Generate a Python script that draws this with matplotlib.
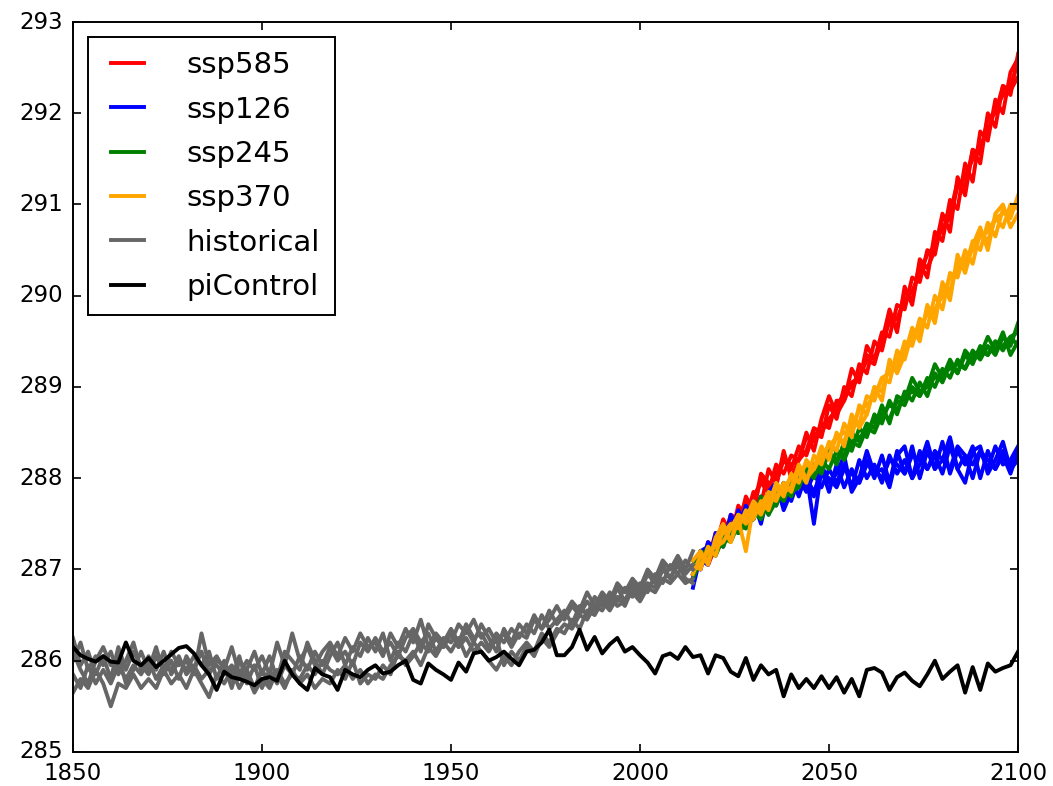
import numpy as np
import matplotlib
import matplotlib.pyplot as plt

matplotlib.use('Agg')
plt.style.use('classic')

# годы
hist_years = np.arange(1850, 2015, 2)
ssp_years = np.arange(2014, 2101, 2)
pi_years = np.arange(1850, 2101, 2)

# historical, 5 членов ансамбля (по десятилетиям, шаг 2 года)
hist_1 = [286.25, 285.95, 286.1, 285.85, 286.05,
          285.8, 286.15, 285.9, 286.1, 285.95,
          285.85, 286.05, 285.9, 286.1, 285.95,
          286.0, 285.85, 286.3, 285.95, 286.05,
          285.9, 286.15, 285.85, 286.0, 285.9,
          286.05, 285.85, 286.2, 285.95, 286.3,
          286.0, 286.15, 285.95, 286.1, 286.2,
          286.05, 286.25, 286.1, 286.3, 286.15,
          286.2, 286.05, 286.3, 286.15, 286.35,
          286.2, 286.45, 286.15, 286.3, 286.2,
          286.35, 286.2, 286.4, 286.25, 286.3,
          286.15, 286.3, 286.2, 286.35, 286.25,
          286.4, 286.3, 286.5, 286.35, 286.45,
          286.55, 286.4, 286.6, 286.5, 286.7,
          286.6, 286.75, 286.65, 286.8, 286.7,
          286.85, 286.75, 286.95, 286.85, 287.05,
          286.95, 287.1, 287.0]
hist_2 = [285.65, 285.8, 285.7, 285.9, 285.75,
          285.5, 285.75, 285.7, 285.85, 285.7,
          285.8, 285.7, 285.9, 285.75, 285.85,
          285.7, 285.9, 285.75, 285.6, 285.85,
          285.75, 285.9, 285.7, 285.85, 285.65,
          285.8, 285.7, 285.9, 285.75, 285.85,
          285.8, 285.95, 285.85, 286.0, 285.9,
          285.85, 285.95, 285.8, 285.9, 285.75,
          285.85, 285.8, 285.95, 286.05, 286.0,
          286.1, 285.95, 286.15, 286.05, 286.2,
          286.1, 286.25, 286.05, 286.2, 286.1,
          286.0, 285.9, 286.05, 285.95, 286.1,
          286.2, 286.1, 286.3, 286.2, 286.35,
          286.3, 286.45, 286.35, 286.55, 286.5,
          286.65, 286.55, 286.7, 286.6, 286.8,
          286.7, 286.85, 286.8, 287.0, 286.9,
          287.05, 286.9, 286.85]
hist_3 = [286.0, 286.2, 285.9, 286.05, 285.95,
          286.1, 285.85, 286.0, 286.2, 285.9,
          286.05, 285.9, 286.1, 285.85, 286.0,
          285.9, 286.05, 285.95, 286.1, 285.8,
          286.0, 285.8, 286.05, 285.75, 285.95,
          285.7, 285.9, 285.75, 285.95, 285.85,
          286.05, 285.9, 286.1, 285.95, 286.15,
          286.0, 286.1, 285.95, 286.2, 286.1,
          286.25, 286.1, 286.2, 286.05, 286.25,
          286.35, 286.2, 286.3, 286.1, 286.25,
          286.2, 286.4, 286.3, 286.45, 286.25,
          286.35, 286.2, 286.3, 286.15, 286.3,
          286.25, 286.45, 286.35, 286.55, 286.4,
          286.5, 286.65, 286.55, 286.75, 286.6,
          286.75, 286.65, 286.85, 286.75, 286.9,
          286.8, 287.0, 286.9, 287.1, 287.0,
          287.15, 287.0, 287.2]
hist_4 = [285.85, 285.7, 285.95, 285.75, 285.9,
          285.75, 285.95, 285.8, 285.95, 285.85,
          286.0, 285.8, 285.95, 285.9, 286.05,
          285.85, 285.95, 285.8, 285.9, 285.95,
          285.85, 285.95, 285.8, 285.9, 285.7,
          285.9, 285.75, 285.85, 285.7, 285.9,
          285.75, 285.85, 285.7, 285.8, 285.75,
          285.9, 285.8, 286.0, 285.75, 285.85,
          285.8, 285.95, 285.85, 286.1, 285.95,
          286.05, 286.2, 286.1, 286.25, 286.15,
          286.3, 286.15, 286.25, 286.1, 286.2,
          286.1, 286.25, 285.95, 286.1, 286.0,
          286.15, 286.05, 286.25, 286.15, 286.3,
          286.4, 286.35, 286.5, 286.45, 286.6,
          286.55, 286.7, 286.6, 286.65, 286.75,
          286.65, 286.8, 286.75, 286.9, 286.85,
          286.95, 286.85, 286.9]
hist_5 = [286.1, 285.9, 285.75, 286.0, 286.15,
          285.95, 286.05, 285.75, 285.9, 286.1,
          285.9, 286.15, 285.85, 286.0, 285.8,
          286.05, 285.9, 286.1, 285.85, 286.0,
          285.95, 285.7, 286.0, 285.9, 286.1,
          285.85, 286.05, 285.8, 286.1, 286.0,
          285.9, 286.2, 286.0, 285.85, 286.05,
          286.2, 285.95, 286.15, 286.05, 286.25,
          286.1, 286.3, 286.0, 286.2, 286.1,
          286.3, 286.1, 286.4, 286.25, 286.15,
          286.3, 286.15, 286.35, 286.2, 286.4,
          286.25, 286.1, 286.35, 286.2, 286.4,
          286.3, 286.5, 286.35, 286.45, 286.6,
          286.45, 286.6, 286.5, 286.65, 286.55,
          286.7, 286.6, 286.8, 286.65, 286.85,
          286.75, 286.95, 286.85, 287.05, 286.9,
          287.1, 286.95, 287.05]

# piControl
picontrol = [286.15, 286.06, 286.02, 285.99, 286.05,
             285.99, 285.98, 286.2, 286.0, 285.95,
             286.03, 285.93, 286.0, 286.07, 286.14,
             286.16, 286.08, 285.95, 285.85, 285.68,
             285.88, 285.82, 285.8, 285.77, 285.73,
             285.8, 285.82, 285.78, 286.0, 285.85,
             285.75, 285.68, 285.92, 285.85, 285.82,
             285.68, 285.9, 285.85, 285.82, 285.9,
             285.95, 285.86, 285.88, 285.95, 286.0,
             285.79, 285.75, 285.97, 285.9, 285.85,
             285.79, 285.98, 285.88, 286.08, 286.1,
             286.0, 286.04, 286.1, 286.02, 285.95,
             286.1, 286.12, 286.2, 286.34, 286.06,
             286.06, 286.15, 286.34, 286.12, 286.26,
             286.08, 286.18, 286.25, 286.1, 286.15,
             286.06, 285.98, 285.86, 286.05, 286.08,
             286.02, 286.15, 286.04, 286.06, 285.86,
             286.06, 286.03, 285.88, 285.83, 286.03,
             285.79, 285.95, 285.85, 285.9, 285.61,
             285.85, 285.7, 285.8, 285.7, 285.83,
             285.7, 285.82, 285.65, 285.8, 285.61,
             285.9, 285.92, 285.87, 285.68, 285.82,
             285.87, 285.78, 285.72, 285.85, 286.0,
             285.8, 285.88, 285.95, 285.65, 285.93,
             285.68, 285.97, 285.88, 285.92, 285.95,
             286.1]

# сценарии, по 4 члена ансамбля
ssp585 = [
    [287.05, 287.0, 287.3, 287.2, 287.5, 287.35, 287.7, 287.55, 287.85, 287.7, 288.1,
     287.95, 288.2, 288.1, 288.35, 288.25, 288.5, 288.45, 288.8, 288.65, 289.0, 288.9,
     289.25, 289.15, 289.5, 289.4, 289.75, 289.65, 290.05, 289.95, 290.35, 290.2, 290.7,
     290.6, 291.05, 290.95, 291.45, 291.25, 291.8, 291.7, 292.15, 292.0, 292.45, 292.6],
    [286.9, 287.2, 287.1, 287.4, 287.3, 287.6, 287.55, 287.75, 287.65, 288.0, 287.9,
     288.05, 288.2, 288.15, 288.2, 288.45, 288.4, 288.6, 288.55, 288.85, 288.85, 289.05,
     289.1, 289.35, 289.3, 289.6, 289.55, 289.9, 289.85, 290.2, 290.15, 290.5, 290.45,
     290.85, 290.9, 291.25, 291.2, 291.6, 291.55, 291.95, 292.0, 292.3, 292.25, 292.4],
    [287.1, 287.05, 287.15, 287.35, 287.25, 287.55, 287.5, 287.6, 287.8, 287.95, 287.85,
     288.15, 288.05, 288.25, 288.2, 288.3, 288.55, 288.5, 288.65, 288.75, 288.95, 289.0,
     289.1, 289.3, 289.25, 289.55, 289.7, 289.75, 289.95, 290.05, 290.25, 290.45, 290.55,
     290.75, 290.85, 291.2, 291.3, 291.5, 291.65, 291.8, 292.05, 292.2, 292.3, 292.55],
    [286.95, 287.15, 287.05, 287.25, 287.55, 287.4, 287.45, 287.8, 287.65, 288.05, 287.95,
     287.9, 288.3, 288.0, 288.2, 288.5, 288.3, 288.65, 288.9, 288.7, 288.85, 289.2,
     289.05, 289.45, 289.3, 289.5, 289.85, 289.6, 290.1, 289.9, 290.4, 290.3, 290.5,
     290.9, 290.7, 291.3, 291.1, 291.6, 291.45, 292.0, 291.85, 292.3, 292.2, 292.65],
]
ssp126 = [
    [286.8, 287.15, 287.1, 287.35, 287.25, 287.6, 287.45, 287.7, 287.55, 287.8, 287.6,
     287.9, 287.7, 288.0, 287.8, 288.05, 287.5, 288.1, 287.85, 288.15, 287.9, 288.1,
     287.95, 288.2, 288.0, 288.25, 287.95, 288.3, 288.05, 288.35, 288.0, 288.3, 288.1,
     288.4, 288.05, 288.3, 288.15, 288.35, 288.0, 288.3, 288.1, 288.25, 288.05, 288.3],
    [287.05, 287.0, 287.3, 287.2, 287.45, 287.35, 287.65, 287.5, 287.75, 287.6, 287.85,
     287.7, 287.95, 287.75, 288.0, 287.85, 288.05, 287.9, 288.1, 287.95, 288.15, 287.9,
     288.2, 288.0, 288.15, 287.95, 288.25, 288.05, 288.2, 288.0, 288.3, 288.1, 288.25,
     288.05, 288.35, 288.1, 288.25, 288.0, 288.3, 288.1, 288.35, 288.15, 288.2, 288.35],
    [286.9, 287.2, 287.25, 287.2, 287.4, 287.5, 287.4, 287.55, 287.7, 287.65, 287.75,
     287.85, 287.8, 287.95, 287.9, 288.0, 287.85, 288.05, 288.0, 287.9, 288.1, 288.05,
     287.95, 288.15, 288.1, 288.0, 288.2, 288.15, 288.05, 288.25, 288.2, 288.1, 288.3,
     288.2, 288.1, 288.35, 288.25, 288.15, 288.3, 288.2, 288.1, 288.3, 288.15, 288.25],
    [287.0, 287.1, 287.05, 287.4, 287.3, 287.35, 287.6, 287.45, 287.75, 287.5, 287.85,
     287.95, 287.65, 287.85, 288.1, 287.9, 287.8, 288.15, 287.95, 288.05, 288.25, 287.85,
     288.0, 288.3, 288.05, 288.1, 287.9, 288.25, 288.35, 288.0, 288.15, 288.4, 288.1,
     288.2, 288.45, 288.1, 287.95, 288.3, 288.35, 288.05, 288.2, 288.4, 288.1, 288.2],
]
ssp245 = [
    [286.95, 287.05, 287.2, 287.15, 287.35, 287.3, 287.5, 287.45, 287.65, 287.55, 287.75,
     287.7, 287.9, 287.8, 288.05, 287.95, 288.15, 288.05, 288.3, 288.15, 288.4, 288.3,
     288.55, 288.45, 288.7, 288.6, 288.85, 288.7, 288.95, 288.85, 289.05, 288.9, 289.15,
     289.05, 289.25, 289.15, 289.35, 289.25, 289.45, 289.35, 289.5, 289.4, 289.55, 289.45],
    [287.05, 287.15, 287.1, 287.3, 287.25, 287.45, 287.4, 287.6, 287.55, 287.7, 287.65,
     287.85, 287.75, 287.95, 287.9, 288.1, 288.0, 288.2, 288.1, 288.3, 288.2, 288.4,
     288.35, 288.55, 288.5, 288.7, 288.65, 288.85, 288.8, 289.0, 288.9, 289.1, 289.0,
     289.2, 289.1, 289.3, 289.2, 289.4, 289.3, 289.45, 289.35, 289.55, 289.45, 289.7],
    [286.9, 287.1, 287.25, 287.2, 287.3, 287.45, 287.4, 287.5, 287.65, 287.6, 287.7,
     287.8, 287.85, 287.95, 288.0, 288.05, 288.1, 288.2, 288.25, 288.2, 288.35, 288.4,
     288.45, 288.5, 288.65, 288.7, 288.8, 288.75, 288.9, 288.95, 288.9, 289.05, 289.1,
     289.15, 289.2, 289.25, 289.2, 289.35, 289.4, 289.35, 289.5, 289.45, 289.55, 289.6],
    [287.0, 287.2, 287.15, 287.2, 287.4, 287.35, 287.6, 287.5, 287.55, 287.8, 287.6,
     287.75, 287.95, 287.85, 287.9, 288.15, 288.05, 288.1, 288.35, 288.3, 288.25, 288.5,
     288.4, 288.6, 288.55, 288.8, 288.6, 288.9, 288.85, 289.1, 288.95, 289.0, 289.25,
     289.1, 289.3, 289.15, 289.4, 289.3, 289.35, 289.55, 289.4, 289.6, 289.35, 289.5],
]
ssp370 = [
    [287.05, 287.0, 287.25, 287.15, 287.45, 287.3, 287.55, 287.2, 287.7, 287.6, 287.8,
     287.75, 287.95, 287.85, 288.1, 287.95, 288.25, 288.15, 288.4, 288.3, 288.6, 288.45,
     288.8, 288.7, 289.0, 288.95, 289.25, 289.2, 289.5, 289.45, 289.75, 289.65, 290.0,
     289.85, 290.25, 290.2, 290.5, 290.35, 290.7, 290.6, 290.85, 290.75, 291.0, 290.95],
    [286.95, 287.15, 287.1, 287.3, 287.4, 287.5, 287.45, 287.65, 287.55, 287.75, 287.65,
     287.9, 287.8, 288.05, 287.95, 288.2, 288.1, 288.3, 288.25, 288.45, 288.4, 288.65,
     288.6, 288.9, 288.85, 289.1, 289.05, 289.4, 289.3, 289.6, 289.55, 289.85, 289.8,
     290.1, 290.05, 290.35, 290.3, 290.6, 290.5, 290.8, 290.65, 290.95, 290.85, 291.1],
    [287.0, 287.05, 287.2, 287.25, 287.3, 287.45, 287.6, 287.5, 287.6, 287.7, 287.85,
     287.8, 287.9, 288.0, 288.05, 288.15, 288.1, 288.25, 288.35, 288.45, 288.5, 288.55,
     288.75, 288.8, 288.9, 289.1, 289.15, 289.3, 289.4, 289.5, 289.65, 289.8, 289.85,
     290.0, 290.2, 290.25, 290.4, 290.5, 290.65, 290.7, 290.85, 290.9, 290.9, 291.05],
    [287.1, 287.2, 287.05, 287.35, 287.5, 287.3, 287.6, 287.55, 287.75, 287.65, 287.7,
     287.95, 287.85, 287.9, 288.15, 288.0, 288.1, 288.35, 288.2, 288.5, 288.35, 288.7,
     288.55, 288.7, 289.0, 288.85, 289.3, 289.15, 289.35, 289.65, 289.5, 289.9, 289.7,
     290.15, 289.95, 290.45, 290.25, 290.55, 290.75, 290.5, 290.9, 291.0, 290.75, 290.9],
]

lw = 2.8

fig = plt.figure(figsize=(10.53, 7.86), dpi=100, facecolor='white')
ax = fig.add_axes([0.0693, 0.0433, 0.8975, 0.9287])

# сценарии
for runs, col, name in [(ssp585, 'red', 'ssp585'), (ssp126, 'blue', 'ssp126'),
                        (ssp245, 'green', 'ssp245'), (ssp370, 'orange', 'ssp370')]:
    for i, r in enumerate(runs):
        ax.plot(ssp_years, r, color=col, lw=lw, label=name if i == 0 else None)

for i, r in enumerate([hist_1, hist_2, hist_3, hist_4, hist_5]):
    ax.plot(hist_years, r, color='0.4', lw=lw, label='historical' if i == 0 else None)

ax.plot(pi_years, picontrol, color='black', lw=lw, label='piControl')

ax.set_xlim(1850, 2100)
ax.set_ylim(285, 293)
ax.set_xticks([1850, 1900, 1950, 2000, 2050, 2100])
ax.tick_params(labelsize=16.5, length=6, width=1.2, pad=7)
for s in ax.spines.values():
    s.set_linewidth(1.4)

leg = ax.legend(loc='upper left', fontsize=21, handlelength=1.75, handletextpad=1.15,
                labelspacing=0.56, borderpad=0.5, borderaxespad=0.5, numpoints=2)
leg.get_frame().set_linewidth(1.4)

plt.savefig('out.png', dpi=100, facecolor='white')
